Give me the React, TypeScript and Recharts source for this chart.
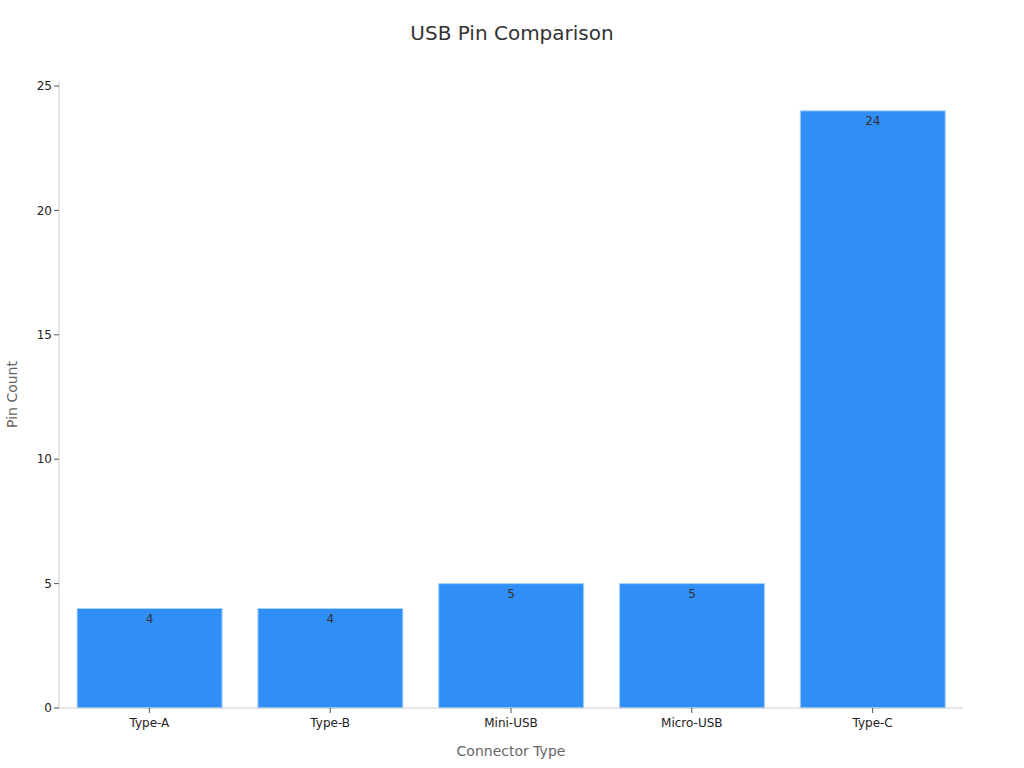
import { BarChart, Bar, XAxis, YAxis, LabelList, Label } from "recharts";

const connectors = ["Type-A", "Type-B", "Mini-USB", "Micro-USB", "Type-C"];
const pinCounts = [4, 4, 5, 5, 24];
const yTicks = [0, 5, 10, 15, 20, 25];

const data = connectors.map((name, i) => ({ name, pins: pinCounts[i] }));

const FONT = "'DejaVu Sans', sans-serif";

export default function App() {
  return (
    <div
      style={{
        position: "absolute",
        left: 0,
        top: 0,
        width: 1024,
        height: 768,
        background: "#fff",
        fontFamily: FONT,
      }}
    >
      <div
        style={{
          position: "absolute",
          top: 20,
          left: 0,
          width: 1024,
          textAlign: "center",
          fontSize: 20,
          color: "#333",
          lineHeight: "26px",
        }}
      >
        USB Pin Comparison
      </div>
      <BarChart
        width={1024}
        height={768}
        data={data}
        margin={{ top: 81, right: 61, bottom: 0, left: 0 }}
        barCategoryGap="10%"
      >
        <XAxis
          dataKey="name"
          height={60}
          stroke="#ccc"
          tick={{ fill: "#222", fontSize: 12, fontFamily: FONT }}
          tickLine={{ stroke: "#555" }}
          tickSize={5}
          tickMargin={5}
        >
          <Label
            value="Connector Type"
            position="insideBottom"
            offset={12}
            style={{ fill: "#666", fontSize: 14, fontFamily: FONT }}
          />
        </XAxis>
        <YAxis
          width={59}
          domain={[0, 25.2]}
          ticks={yTicks}
          stroke="#ccc"
          tick={{ fill: "#222", fontSize: 12, fontFamily: FONT }}
          tickLine={{ stroke: "#555" }}
          tickSize={5}
        >
          <Label
            value="Pin Count"
            angle={-90}
            position="insideLeft"
            offset={12}
            style={{ fill: "#666", fontSize: 14, fontFamily: FONT, textAnchor: "middle" }}
          />
        </YAxis>
        <Bar
          dataKey="pins"
          fill="#2F8FF7"
          stroke="#a8d2fc"
          strokeWidth={1}
          isAnimationActive={false}
        >
          <LabelList
            dataKey="pins"
            position="insideTop"
            offset={6}
            style={{ fill: "#333", fontSize: 12, fontFamily: FONT }}
          />
        </Bar>
      </BarChart>
    </div>
  );
}
